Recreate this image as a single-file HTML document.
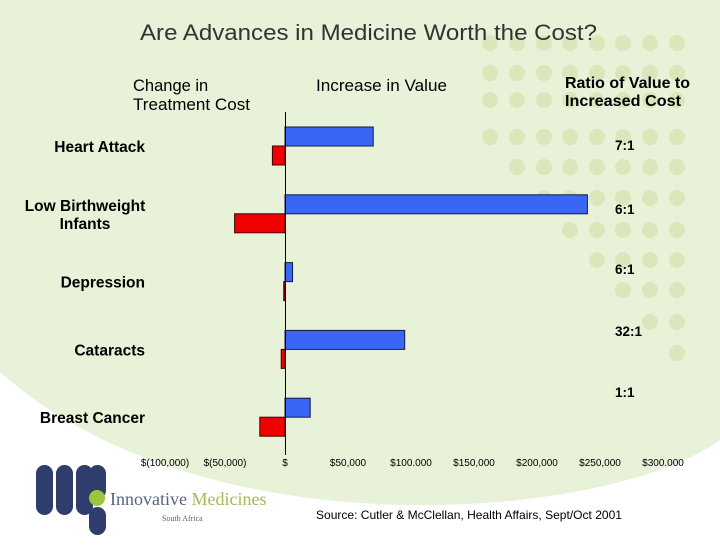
<!DOCTYPE html>
<html><head><meta charset="utf-8"><style>
body{margin:0;width:720px;height:540px;overflow:hidden;background:#fff;font-family:"Liberation Sans",Arial,sans-serif}
</style></head><body>
<svg id="chart" width="720" height="540" xmlns="http://www.w3.org/2000/svg" font-family="Liberation Sans, Arial, sans-serif">
<path d="M0,0 L720,0 L720,440 C680,470 580,502 440,505 C280,508 110,470 0,372 Z" fill="#e8f2d8"/>
<g id="dots" fill="#dae7ba"></g>
<text x="140" y="40" font-size="22" fill="#333" textLength="457" lengthAdjust="spacingAndGlyphs">Are Advances in Medicine Worth the Cost?</text>
<text x="133" y="91" font-size="16.5" fill="#000">Change in</text>
<text x="133" y="110" font-size="16.5" fill="#000" textLength="117" lengthAdjust="spacingAndGlyphs">Treatment Cost</text>
<text x="316" y="91" font-size="16.5" fill="#000" textLength="131" lengthAdjust="spacingAndGlyphs">Increase in Value</text>
<text x="565" y="88" font-size="15.5" font-weight="bold" fill="#000" textLength="125" lengthAdjust="spacingAndGlyphs">Ratio of Value to</text>
<text x="565" y="106" font-size="15.5" font-weight="bold" fill="#000" textLength="116" lengthAdjust="spacingAndGlyphs">Increased Cost</text>
<g id="bars"></g>
<line x1="285.5" y1="112" x2="285.5" y2="455" stroke="#000" stroke-width="1"/>
<g id="ticks"></g>
<g fill="#2e3d6b">
<rect x="36" y="465" width="17" height="50" rx="8.5"/>
<rect x="56" y="465" width="17" height="50" rx="8.5"/>
<rect x="76" y="465" width="17" height="50" rx="8.5"/>
<rect x="89" y="465" width="17" height="34" rx="8.5"/>
<rect x="89" y="507" width="17" height="28" rx="8.5"/>
<circle cx="97" cy="498" r="8" fill="#9cc43c"/>
<text x="110" y="505" font-family="Liberation Serif, serif" font-size="18" fill="#56657f">Innovative <tspan fill="#a3b85a">Medicines</tspan></text>
<text x="162" y="521" font-family="Liberation Serif, serif" font-size="8" fill="#56657f">South Africa</text>
</g>
<text x="316" y="519" font-size="12" fill="#000" textLength="306" lengthAdjust="spacingAndGlyphs">Source: Cutler &amp; McClellan, Health Affairs, Sept/Oct 2001</text>
</svg>
<script>
const categories=["Heart Attack","Low Birthweight|Infants","Depression","Cataracts","Breast Cancer"];
const valueIncrease=[70000,240000,6000,95000,20000];
const costChange=[-10000,-40000,-1000,-3000,-20000];
const ratios=["7:1","6:1","6:1","32:1","1:1"];
const tickValues=[-100000,-50000,0,50000,100000,150000,200000,250000,300000];
const tickLabels=["$(100,000)","$(50,000)","$","$50,000","$100.000","$150,000","$200,000","$250,000","$300.000"];
const NS="http://www.w3.org/2000/svg";
const dotCols=[490,517,544,570,597,623,650,677];
const dotRows=[[43,0],[73,0],[100,0],[137,0],[167,1],[198,2],[230,3],[260,4],[290,5],[322,6],[353,7]];
const dg=document.getElementById('dots');
dotRows.forEach(r=>{for(let i=r[1];i<dotCols.length;i++){const c=document.createElementNS(NS,'circle');c.setAttribute('cx',dotCols[i]);c.setAttribute('cy',r[0]);c.setAttribute('r',8);dg.appendChild(c);}});
const x=v=>285+v*63/50000;
const rowY=i=>127+i*67.8;
const bg=document.getElementById('bars');
function mk(tag,attrs,parent){const e=document.createElementNS(NS,tag);for(const k in attrs)e.setAttribute(k,attrs[k]);parent.appendChild(e);return e;}
categories.forEach((c,i)=>{
 const y=rowY(i);
 const b=mk('rect',{x:x(0),y:y,width:x(valueIncrease[i])-x(0),height:19,fill:'#3a66f5',stroke:'#1a1a40','stroke-width':1},bg);
 
 
 const r=mk('rect',{x:x(costChange[i]),y:y+19,width:x(0)-x(costChange[i]),height:19,fill:'#f00000',stroke:'#400','stroke-width':1},bg);
 
 
 const parts=c.split('|');
 parts.forEach((p,j)=>{
  const multi=parts.length>1;
  const t=mk('text',{x:multi?85:145,y:y+(multi?16+j*18:25),'font-size':15.5,'font-weight':'bold','text-anchor':multi?'middle':'end',fill:'#000'},bg);
  t.textContent=p;
  
  
 });
 const rt=mk('text',{x:615,y:[150,214,274,336,397][i],'font-size':13.5,'font-weight':'bold',fill:'#000'},bg);
 rt.textContent=ratios[i];
 
 
});
const tg=document.getElementById('ticks');
tickValues.forEach((v,i)=>{
 const px=v<0?285+v*60/50000:x(v);
 const t=mk('text',{x:px,y:466,'font-size':10,'text-anchor':'middle',fill:'#000'},tg);
 t.textContent=tickLabels[i];
 
 
});
</script>
</body></html>
